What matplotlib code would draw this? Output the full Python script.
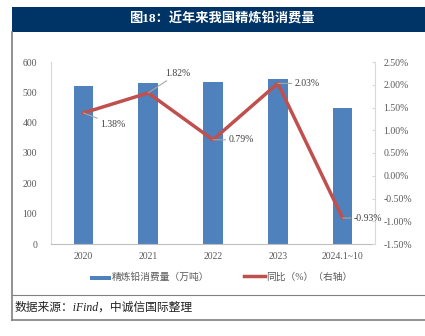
import numpy as np
import matplotlib.pyplot as plt
from matplotlib.lines import Line2D
from matplotlib.patches import Rectangle
from matplotlib.ticker import FuncFormatter

plt.rcParams['font.family'] = ['Liberation Serif', 'Noto Sans CJK SC', 'DejaVu Sans']

years = ['2020', '2021', '2022', '2023', '2024.1~10']
consumption = [520, 531, 535, 545, 448]
yoy = [1.38, 1.82, 0.79, 2.03, -0.93]
yoy_labels = ['1.38%', '1.82%', '0.79%', '2.03%', '-0.93%']
label_offsets = [(12, -8), (12, 14), (11, 0), (12, 0), (8, 0)]

fig = plt.figure(figsize=(4.25, 3.36), dpi=100)

# frame and title bar
fig.patches.append(Rectangle((12/425, 1-32/336), 413/425, 25/336, transform=fig.transFigure,
                             facecolor='#003366', edgecolor='none'))
fig.text(222/425, 1-19/336, '图18：近年来我国精炼铅消费量', color='white', fontsize=9.5,
         fontweight='bold', ha='center', va='center')
fig.add_artist(Line2D([12/425, 12/425], [1-32/336, 1-320/336], color='#808080', lw=1.2))
fig.add_artist(Line2D([12/425, 1], [1-320/336, 1-320/336], color='#808080', lw=1.2))
fig.add_artist(Line2D([12/425, 1], [1-295/336, 1-295/336], color='#808080', lw=0.8))
fig.text(15/425, 1-308/336, '数据来源：iFind，中诚信国际整理', fontsize=8.5, style='italic',
         ha='left', va='center', color='#222222')

ax = fig.add_axes([51/425, 1-244/336, 324/425, 182/336])
x = np.arange(len(years))
ax.bar(x, consumption, width=0.3, color='#4F81BD', label='精炼铅消费量（万吨）', zorder=2)
ax.set_ylim(0, 600)
ax.set_yticks(range(0, 601, 100))
ax.set_xlim(-0.5, len(years) - 0.5)
ax.set_xticks(x)
ax.set_xticklabels(years)
ax.tick_params(axis='both', labelsize=7, colors='#595959', length=0, pad=6)
ax.tick_params(axis='y', pad=10)
for s in ['top', 'right']:
    ax.spines[s].set_visible(False)
ax.spines['left'].set_color('#D9D9D9')
ax.spines['bottom'].set_color('#BFBFBF')

ax2 = ax.twinx()
ax2.plot(x, yoy, color='#C0504D', lw=2.5, label='同比（%）（右轴）', zorder=3)
ax2.set_ylim(-1.5, 2.5)
ax2.set_yticks(np.arange(-1.5, 2.51, 0.5))
ax2.yaxis.set_major_formatter(FuncFormatter(lambda v, p: f'{v:.2f}%'))
ax2.tick_params(axis='y', labelsize=7, colors='#595959', length=2, direction='in', pad=6)
for s in ['top', 'left', 'bottom']:
    ax2.spines[s].set_visible(False)
ax2.spines['right'].set_color('#D9D9D9')
ax2.tick_params(axis='y', color='#D9D9D9')

for xi, v, t, off in zip(x, yoy, yoy_labels, label_offsets):
    ax2.annotate(t, xy=(xi, v), xytext=off, textcoords='offset points', fontsize=7,
                 color='#404040', ha='left', va='center',
                 arrowprops=dict(arrowstyle='-', color='#A6A6A6', lw=0.8,
                                 shrinkA=0, shrinkB=0))

h1, l1 = ax.get_legend_handles_labels()
h2, l2 = ax2.get_legend_handles_labels()
fig.legend(h1 + h2, l1 + l2, loc='center', bbox_to_anchor=(221/425, 1-277/336), ncol=2,
           frameon=False, fontsize=7, labelcolor='#595959', handlelength=2.2,
           columnspacing=3.5, handletextpad=0.1)
leg = fig.legends[0]
leg.legend_handles[0].set_height(3)

fig.savefig('out.png', dpi=100)
